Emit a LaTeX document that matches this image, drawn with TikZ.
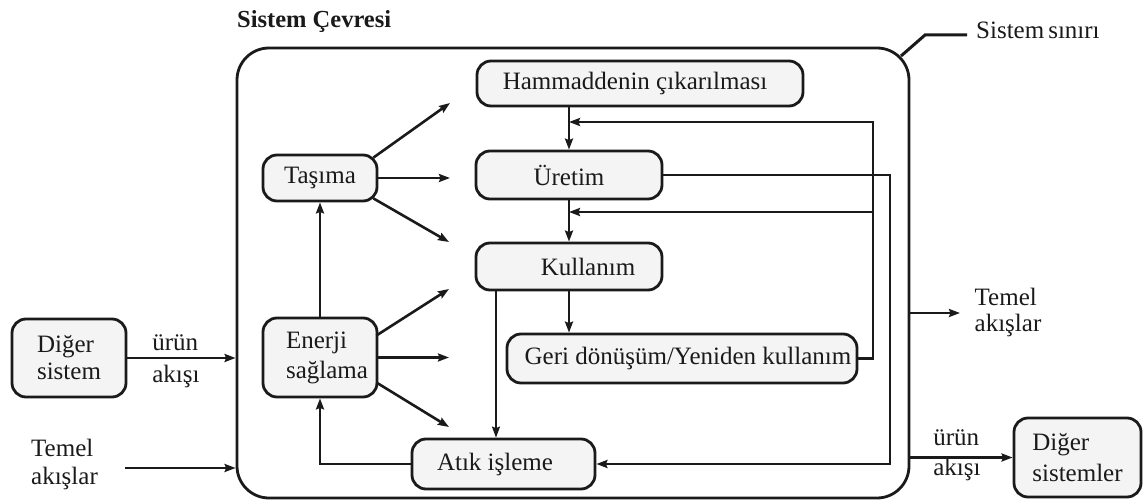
\documentclass[tikz,border=0pt]{standalone}
\usepackage{fontspec}
\setmainfont{Liberation Serif}
\usetikzlibrary{arrows.meta,calc}
\definecolor{ink}{HTML}{1A1A1A}
\definecolor{boxfill}{HTML}{F4F4F4}
\begin{document}
\begin{tikzpicture}[x=1pt,y=-1pt,
  every node/.style={font=\fontsize{25}{28}\selectfont, text=ink},
  box/.style={draw=ink, line width=2.8pt, fill=boxfill, rounded corners=14pt, inner sep=0pt},
  link/.style={draw=ink, line width=2.6pt},
  arr/.style={link, -{Stealth[length=11pt,width=8pt,inset=1.5pt]}},
  lbl/.style={align=left, inner sep=0pt}]
\useasboundingbox (0,0) rectangle (1144,503);

% system boundary
\node[draw=ink, line width=2.8pt, rounded corners=32pt, inner sep=0pt,
      minimum width=672pt, minimum height=450pt] (sys) at (573,273) {};
\node[anchor=base west, inner sep=0pt, font=\fontsize{24.5}{28}\selectfont\bfseries] (title) at (237,28) {Sistem Çevresi};

% boundary leader and its label
\coordinate (bnd) at ($(sys.north east)+(-9.4,9.4)$);
\coordinate (lead) at (967,35);
\node[anchor=base west, inner sep=0pt] (bname) at (976,39) {Sistem\hspace{4pt}sınırı};
\draw[link, line width=3pt] (bnd) -- (925,35) -- (lead);

% processes inside the system
\node[box, minimum width=326pt, minimum height=45pt] (ham) at (640,83.5) {\hspace*{-10pt}Hammaddenin çıkarılması};
\node[box, minimum width=186pt, minimum height=48pt] (ure) at (569,175) {Üretim};
\node[box, minimum width=186pt, minimum height=47pt] (kul) at (569,266.5) {\hspace*{38pt}Kullanım};
\node[box, minimum width=350pt, minimum height=49pt] (geri) at (682,358.5) {\hspace*{12pt}Geri dönüşüm/Yeniden kullanım};
\node[box, minimum width=183pt, minimum height=50pt] (atik) at (503.5,464) {Atık işleme\hspace*{17pt}};
\node[box, minimum width=114pt, minimum height=46pt] (tas) at (320,178) {Taşıma};
\node[box, minimum width=114pt, minimum height=79pt, align=left, font=\fontsize{25}{30}\selectfont] (ener) at (320,357.5)
  {\hspace*{14pt}Enerji\\\hspace*{14pt}sağlama};

% neighbouring systems
\node[box, minimum width=114pt, minimum height=78pt, align=left, font=\fontsize{25}{27}\selectfont] (dig) at (69,358) {Diğer\\sistem};
\node[box, minimum width=127pt, minimum height=79pt, align=left, font=\fontsize{25}{31}\selectfont] (digs) at (1077.5,457.5) {Diğer\\sistemler};

% flow labels
\node[lbl, font=\fontsize{25}{32}\selectfont] (pin) at (176,361) {ürün\\akışı};
\node[lbl, font=\fontsize{25}{28}\selectfont] (tin) at (64.5,464) {Temel\\akışlar};
\node[lbl, font=\fontsize{25}{26}\selectfont] (tout) at (1008,312) {Temel\\akışlar};
\node[lbl, font=\fontsize{25}{30}\selectfont] (pout) at (957,455) {ürün\\akışı};

% flows across the boundary
\coordinate (tinS) at (125,468);
\coordinate (toutE) at (960,313);
\draw[arr] (dig.east) -- (dig.east -| sys.west);
\draw[arr] (tinS) -- (tinS -| sys.west);
\draw[arr] (toutE -| sys.east) -- (toutE);
\draw[arr] (digs.west -| sys.east) -- (digs.west);

% transport fan
\coordinate (t1) at (450,103);
\coordinate (t2) at (450,178);
\coordinate (t3) at (449,242);
\draw[arr] ($(tas.north east)+(-5,4)$) -- (t1);
\draw[arr] (tas.east) -- (t2);
\draw[arr] ($(tas.south east)+(-5,-4)$) -- (t3);

% energy fan
\coordinate (e1) at (449,289);
\coordinate (e2) at (449,357.5);
\coordinate (e3) at (449,427);
\draw[arr] ($(ener.east)+(-2,-22)$) -- (e1);
\draw[arr] (ener.east) -- (e2);
\draw[arr] ($(ener.east)+(-2,25)$) -- (e3);

% main chain
\draw[arr] (ener.north) -- (tas.south);
\draw[arr] (atik.west) -| (ener.south);
\draw[arr] (ham.south -| ure.north) -- (ure.north);
\draw[arr] (ure.south) -- (kul.north);
\draw[arr] (kul.south) -- (kul.south |- geri.north);
\coordinate (kx) at (496,0);
\draw[arr, line width=1.6pt] (kul.south -| kx) -- (atik.north -| kx);

% feedback loops
\coordinate (fb1) at (873,122);
\coordinate (fb2) at (873,212);
\draw[arr] (geri.east) -| (fb1) -- (fb1 -| ure.north);
\draw[arr] (fb2) -- (fb2 -| kul.north);
\coordinate (rb) at (890,300);
\draw[arr] (ure.east) -| (rb) |- (atik.east);
\end{tikzpicture}
\end{document}
